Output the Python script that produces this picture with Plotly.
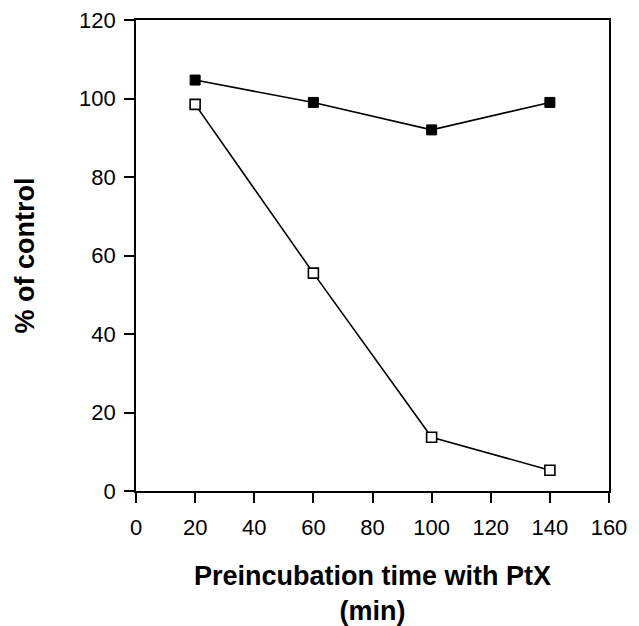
import plotly.graph_objects as go

time_min = [20, 60, 100, 140]
filled_vals = [104.7, 99.0, 92.0, 99.0]
open_vals = [98.5, 55.5, 13.7, 5.3]
x_ticks = [0, 20, 40, 60, 80, 100, 120, 140, 160]
y_ticks = [0, 20, 40, 60, 80, 100, 120]

FONT = "Liberation Sans, Arial, sans-serif"

fig = go.Figure()
fig.add_trace(go.Scatter(
    x=time_min, y=filled_vals, mode="lines+markers",
    line=dict(color="black", width=1.6),
    marker=dict(symbol="square", size=10, color="black", line=dict(color="black", width=1)),
    showlegend=False))
fig.add_trace(go.Scatter(
    x=time_min, y=open_vals, mode="lines+markers",
    line=dict(color="black", width=1.6),
    marker=dict(symbol="square", size=10, color="white", line=dict(color="black", width=1.6)),
    showlegend=False))

axis_common = dict(
    showgrid=False, zeroline=False, showline=True, linecolor="black", linewidth=1.8,
    mirror=True, ticks="outside", ticklen=10, tickwidth=1.8, tickcolor="black",
    tickfont=dict(family=FONT, size=22, color="black"), automargin=False,
    ticklabeloverflow="allow",
)
fig.update_xaxes(range=[0, 160], tickvals=x_ticks, ticklabelstandoff=6,
                 title=dict(text="<b>Preincubation time with PtX<br>(min)</b>",
                            font=dict(family=FONT, size=27, color="black"),
                            standoff=33),
                 **axis_common)
fig.update_yaxes(range=[0, 120], tickvals=y_ticks, ticklabelstandoff=4,
                 title=dict(text="<b>% of control</b>",
                            font=dict(family=FONT, size=27, color="black"),
                            standoff=37),
                 **axis_common)
fig.update_layout(
    width=639, height=626,
    margin=dict(l=136, r=30, t=20, b=135),
    plot_bgcolor="white", paper_bgcolor="white",
)
fig.write_html("out.html", config={"displayModeBar": False},
               post_script="document.body.style.margin='0px';")
